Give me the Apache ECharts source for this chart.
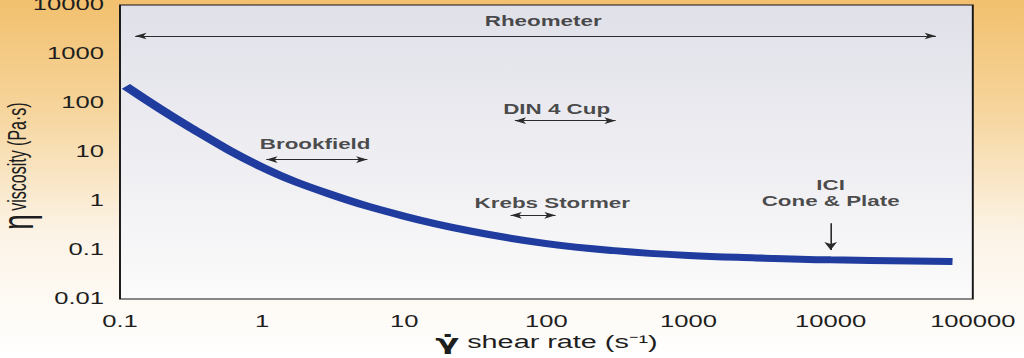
<!DOCTYPE html>
<html>
<head>
<meta charset="utf-8">
<script src="https://cdn.jsdelivr.net/npm/echarts@6/dist/echarts.min.js"></script>
<style>
html,body{margin:0;padding:0;background:#fff;}
#wrap{width:1024px;height:358px;overflow:hidden;}
#main{width:640px;height:358px;transform:scaleX(1.6);transform-origin:0 0;}
</style>
</head>
<body>
<div id="wrap"><div id="main"></div></div>
<script>
// ---- data ----
const xTickLabels = ['0.1', '1', '10', '100', '1000', '10000', '100000'];
const yTickLabels = ['0.01', '0.1', '1', '10', '100', '1000', '10000'];
const shearRate = [0.11, 0.3, 1, 3, 10, 30, 100, 300, 1000, 3000, 10000, 72000];
const viscosity = [219, 34, 4.9, 1.38, 0.49, 0.24, 0.135, 0.097, 0.077, 0.069, 0.063, 0.058];

const noteNames = ['Rheometer', 'Brookfield', 'DIN 4 Cup', 'Krebs Stormer', 'ICI\nCone & Plate'];
const noteX = [95, 2.36, 118, 110, 10000];
const noteY = [4680, 14.8, 76, 0.89, 1.48];

const rangeStart = [0.128, 1.07, 60, 56];
const rangeEnd = [55000, 5.5, 307, 116];
const rangeY = [2330, 7.0, 43.6, 0.51];

const pointerX = [10000];
const pointerTop = [0.35];
const pointerBottom = [0.1];

// ---- chart ----
const chart = echarts.init(document.getElementById('main'), null, {renderer: 'svg'});

const rangeLines = rangeStart.map((s, i) => [
  {coord: [s, rangeY[i]], symbol: 'arrow'},
  {coord: [rangeEnd[i], rangeY[i]], symbol: 'arrow'}
]);
const pointerLines = pointerX.map((x, i) => [
  {coord: [x, pointerTop[i]], symbol: 'none'},
  {coord: [x, pointerBottom[i]], symbol: 'arrow', symbolSize: [6, 8]}
]);

const option = {
  animation: false,
  backgroundColor: {
    type: 'linear', x: 0, y: 0, x2: 0, y2: 1,
    colorStops: [
      {offset: 0, color: '#f2c06e'},
      {offset: 0.3, color: '#f6d49b'},
      {offset: 0.65, color: '#fcf3e6'},
      {offset: 1, color: '#ffffff'}
    ]
  },
  grid: {
    left: 75, right: 32, top: 5, bottom: 59,
    outerBoundsMode: 'none',
    containLabel: false,
    show: true,
    borderColor: '#151515',
    borderWidth: 1.2,
    backgroundColor: {
      type: 'linear', x: 0, y: 0, x2: 0, y2: 1,
      colorStops: [
        {offset: 0, color: '#e0e0e9'},
        {offset: 1, color: '#fbfbfb'}
      ]
    }
  },
  xAxis: {
    type: 'log', logBase: 10, min: 0.1, max: 100000, splitNumber: 6,
    axisLine: {show: false}, axisTick: {show: false}, splitLine: {show: false},
    axisLabel: {
      margin: 15, color: '#1e1e1e', fontSize: 16, fontFamily: 'Liberation Sans, Arial, sans-serif',
      formatter: v => xTickLabels[Math.round(Math.log10(v)) + 1]
    },
    name: '{g|γ̇} shear rate (s⁻¹)',
    nameLocation: 'middle', nameGap: 32,
    nameMoveOverlap: false,
    nameTextStyle: {
      color: '#1e1e1e', fontSize: 18, fontFamily: 'Liberation Sans, Arial, sans-serif',
      rich: {g: {fontSize: 22, fontWeight: 'bold', fontFamily: 'DejaVu Sans', color: '#1e1e1e'}}
    }
  },
  yAxis: {
    type: 'log', logBase: 10, min: 0.01, max: 10000, splitNumber: 6,
    axisLine: {show: false}, axisTick: {show: false}, splitLine: {show: false},
    axisLabel: {
      margin: 10, color: '#1e1e1e', fontSize: 16, fontFamily: 'Liberation Sans, Arial, sans-serif',
      formatter: v => yTickLabels[Math.round(Math.log10(v)) + 2]
    },
    name: '{e|η} {t|viscosity (Pa·s)}',
    nameLocation: 'middle', nameGap: 50,
    nameMoveOverlap: false,
    nameTextStyle: {
      color: '#1e1e1e', padding: [0, 28, 0, 0],
      rich: {
        e: {fontSize: 28, fontFamily: 'Liberation Sans, Arial, sans-serif', color: '#1e1e1e'},
        t: {fontSize: 16, fontFamily: 'Liberation Sans, Arial, sans-serif', color: '#1e1e1e'}
      }
    }
  },
  series: [
    {
      type: 'line',
      data: shearRate.map((x, i) => [x, viscosity[i]]),
      smooth: 0.4,
      showSymbol: false,
      lineStyle: {color: '#1f3c9e', width: 7, cap: 'butt'},
      emphasis: {disabled: true},
      silent: true
    },
    {
      type: 'scatter',
      symbolSize: 0,
      silent: true,
      data: noteNames.map((n, i) => ({name: n, value: [noteX[i], noteY[i]]})),
      label: {
        show: true, position: 'inside', formatter: '{b}',
        color: '#1e1e1e', fontSize: 14, fontWeight: 'bold', lineHeight: 16,
        fontFamily: 'Liberation Sans, Arial, sans-serif', align: 'center'
      },
      markLine: {
        silent: true,
        animation: false,
        symbolSize: [5, 7],
        label: {show: false},
        lineStyle: {color: '#2a2a2a', width: 1, type: 'solid'},
        emphasis: {disabled: true},
        data: rangeLines.concat(pointerLines)
      }
    }
  ]
};
chart.setOption(option);
</script>
</body>
</html>
